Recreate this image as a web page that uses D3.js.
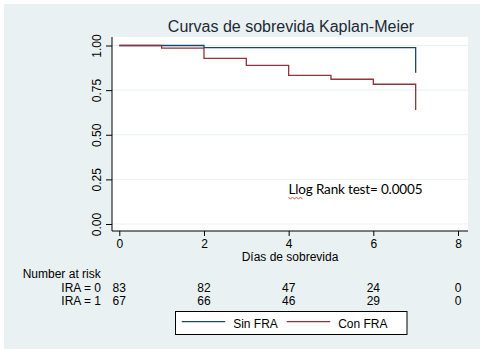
<!DOCTYPE html>
<html>
<head>
<meta charset="utf-8">
<script src="https://cdn.jsdelivr.net/npm/d3@7"></script>
<style>
  body { margin: 0; background: #fff; }
  svg { display: block; font-family: "Liberation Sans", Arial, sans-serif; }
</style>
</head>
<body>
<div id="chart"></div>
<script>
// KM estimates
const sinTimes = [0, 2, 7];
const sinSurv = [1, 0.988, 0.848];
const conTimes = [0, 1, 2, 3, 4, 5, 6, 7];
const conSurv = [1, 0.985, 0.928, 0.889, 0.833, 0.811, 0.783, 0.639];

const xTicks = [0, 2, 4, 6, 8];
const yTicks = [0, 0.25, 0.5, 0.75, 1];
const riskLabels = ['IRA = 0', 'IRA = 1'];
const riskIRA0 = [83, 82, 47, 24, 0];
const riskIRA1 = [67, 66, 46, 29, 0];
const seriesNames = ['Sin FRA', 'Con FRA'];
const seriesColors = ['#1a476f', '#90353b'];

const W = 482, H = 353;
const plot = {left: 112, right: 468, top: 37, bottom: 231};

const svg = d3.select('#chart').append('svg')
    .attr('width', W)
    .attr('height', H);

// graph region
svg.append('rect')
    .attr('x', 4).attr('y', 4)
    .attr('width', 476).attr('height', 345)
    .attr('fill', '#eaf1f3');

svg.append('rect')
    .attr('x', plot.left).attr('y', plot.top)
    .attr('width', plot.right - plot.left)
    .attr('height', plot.bottom - plot.top)
    .attr('fill', '#fff');

const x = d3.scaleLinear().domain([0, 8]).range([119.3, 458]);
const y = d3.scaleLinear().domain([0, 1]).range([224, 45.5]);

// gridlines
svg.append('g').selectAll('line')
    .data(yTicks)
    .enter()
    .append('line')
    .attr('x1', plot.left).attr('x2', plot.right)
    .attr('y1', d => y(d)).attr('y2', d => y(d))
    .attr('stroke', '#eaf1f3')
    .attr('stroke-width', 1);

// y axis
const yAxis = svg.append('g')
    .attr('transform', `translate(${plot.left},0)`)
    .call(d3.axisLeft(y).tickValues(yTicks).tickFormat(d3.format('.2f')).tickSize(6).tickPadding(4));
yAxis.select('.domain').attr('d', `M0,${plot.top}V${plot.bottom}`).attr('stroke', '#000');
yAxis.selectAll('.tick line').attr('stroke', '#000');
yAxis.selectAll('.tick text')
    .attr('transform', 'rotate(-90)')
    .attr('x', 0).attr('y', -11)
    .attr('dy', 0)
    .attr('text-anchor', 'middle')
    .style('font-family', '"Liberation Sans", Arial, sans-serif')
    .style('font-size', '12px')
    .attr('fill', '#000');

// x axis
const xAxis = svg.append('g')
    .attr('transform', `translate(0,${plot.bottom})`)
    .call(d3.axisBottom(x).tickValues(xTicks).tickFormat(d3.format('d')).tickSize(5).tickPadding(3));
xAxis.select('.domain').attr('d', `M${plot.left},0H${plot.right}`).attr('stroke', '#000');
xAxis.selectAll('.tick line').attr('stroke', '#000');
xAxis.selectAll('.tick text')
    .style('font-family', '"Liberation Sans", Arial, sans-serif')
    .style('font-size', '12px')
    .attr('fill', '#000');

// survival curves
const line = d3.line()
    .x(d => x(d[0]))
    .y(d => y(d[1]))
    .curve(d3.curveStepAfter);

const curves = [
    d3.zip(sinTimes, sinSurv),
    d3.zip(conTimes, conSurv)
];

svg.append('g').selectAll('path')
    .data(curves)
    .enter()
    .append('path')
    .attr('d', line)
    .attr('fill', 'none')
    .attr('stroke', (d, i) => seriesColors[i])
    .attr('stroke-width', 1.3);

// title
svg.append('text')
    .attr('x', 291).attr('y', 31.5)
    .attr('text-anchor', 'middle')
    .style('font-size', '16px')
    .attr('fill', '#1c2a36')
    .text('Curvas de sobrevida Kaplan-Meier');

// annotation
svg.append('text')
    .attr('x', 288.5).attr('y', 194.3)
    .style('font-family', 'Lato, "Open Sans", sans-serif')
    .style('font-size', '13.5px')
    .attr('fill', '#000')
    .attr('textLength', 134)
    .text('Llog Rank test= 0.0005');

// spell-check squiggle under "Llog"
const squig = d3.range(0, 8).map(i => [288.5 + i * 2, 197.5 + (i % 2 ? 1.2 : 0)]);
svg.append('path')
    .attr('d', d3.line()(squig))
    .attr('fill', 'none')
    .attr('stroke', '#e03030')
    .attr('stroke-width', 0.9);

// x axis title
svg.append('text')
    .attr('x', 290).attr('y', 261)
    .attr('text-anchor', 'middle')
    .style('font-size', '12px')
    .attr('fill', '#000')
    .text('Días de sobrevida');

// number at risk table
svg.append('text')
    .attr('x', 22.7).attr('y', 278)
    .style('font-size', '12px')
    .attr('fill', '#000')
    .text('Number at risk');

const riskRows = [riskIRA0, riskIRA1];
const rowY = [292, 305];
riskRows.forEach((row, r) => {
    svg.append('text')
        .attr('x', 101).attr('y', rowY[r])
        .attr('text-anchor', 'end')
        .style('font-size', '12px')
        .attr('fill', '#000')
        .text(riskLabels[r]);
    svg.append('g').selectAll('text')
        .data(row)
        .enter()
        .append('text')
        .attr('x', (d, i) => x(xTicks[i]))
        .attr('y', rowY[r])
        .attr('text-anchor', 'middle')
        .style('font-size', '12px')
        .attr('fill', '#000')
        .text(d => d);
});

// legend
const legend = svg.append('g');
legend.append('rect')
    .attr('x', 175.5).attr('y', 311.5)
    .attr('width', 231.5).attr('height', 23)
    .attr('fill', '#fff')
    .attr('stroke', '#000')
    .attr('stroke-width', 1);

const legX = [181.7, 286.7];
seriesNames.forEach((name, i) => {
    legend.append('line')
        .attr('x1', legX[i]).attr('x2', legX[i] + 43.5)
        .attr('y1', 321.7).attr('y2', 321.7)
        .attr('stroke', seriesColors[i])
        .attr('stroke-width', 1.2);
    legend.append('text')
        .attr('x', legX[i] + 51.5).attr('y', 327.5)
        .style('font-size', '12px')
        .attr('fill', '#000')
        .text(name);
});
</script>
</body>
</html>
